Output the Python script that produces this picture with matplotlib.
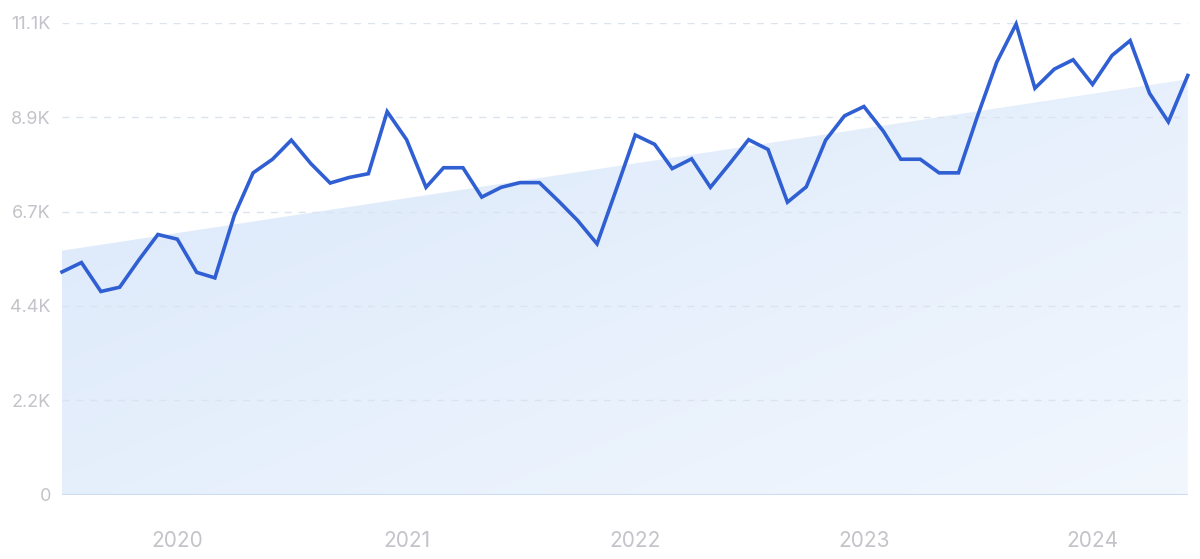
import numpy as np
import pandas as pd
import matplotlib
matplotlib.use("Agg")
import matplotlib.pyplot as plt
import matplotlib.dates as mdates
from matplotlib.colors import LinearSegmentedColormap
from matplotlib.patches import Polygon

# monthly values, Jul 2019 - Jun 2024
months = pd.date_range("2019-07-01", periods=60, freq="MS")
values = [5240, 5460, 4780, 4880, 5530, 6120, 6010, 5230, 5100, 6570,
          7570, 7890, 8340, 7790, 7330, 7460, 7550, 9010, 8350, 7230,
          7690, 7690, 7000, 7230, 7340, 7340, 6900, 6450, 5900, 7150,
          8460, 8240, 7670, 7900, 7230, 7790, 8350, 8120, 6880, 7240,
          8340, 8910, 9130, 8550, 7890, 7890, 7570, 7570, 8890, 10170,
          11070, 9560, 10010, 10230, 9650, 10330, 10680, 9440, 8770, 9860]

# trend band end points
trend_start = 5740
trend_end = 9770

y_ticks = [0, 2220, 4440, 6660, 8880, 11100]
y_labels = ["0", "2.2K", "4.4K", "6.7K", "8.9K", "11.1K"]
year_labels = ["2020", "2021", "2022", "2023", "2024"]

plt.rcParams["font.family"] = ["Inter", "DejaVu Sans"]

fig = plt.figure(figsize=(12, 5.59), dpi=100)
ax = fig.add_axes([0.0517, 0.115, 0.9381, 0.8443])

x = mdates.date2num(months)
x0, x1 = x[0], x[-1]

# trend area with a soft diagonal gradient
poly = Polygon([(x0, 0), (x0, trend_start), (x1, trend_end), (x1, 0)],
               closed=True, facecolor="none", edgecolor="none")
ax.add_patch(poly)
grad = np.add.outer(np.linspace(0, 1, 100), np.linspace(0, 1, 200)) / 2
cmap = LinearSegmentedColormap.from_list("band", ["#d9e7fa", "#f2f7fe"])
im = ax.imshow(grad, extent=[x0, x1, 0, 11100], aspect="auto", cmap=cmap,
               zorder=1, interpolation="bilinear")
im.set_clip_path(poly)

# baseline
ax.plot([x0, x1], [0, 0], color="#cddcf3", lw=1.5, zorder=2)

# grid
for t in y_ticks[1:]:
    ax.axhline(t, color="#dbe3ef", lw=1, ls=(0, (5, 5)), zorder=1.5)

ax.plot(x, values, color="#2f5fd2", lw=2.6, solid_joinstyle="miter",
        zorder=3, clip_on=False)

ax.set_xlim(x0, x1)
ax.set_ylim(0, 11100)

ax.set_yticks(y_ticks)
ax.set_yticklabels(y_labels)
year_pos = [mdates.date2num(pd.Timestamp(f"{y}-01-01")) for y in year_labels]
ax.set_xticks(year_pos)
ax.set_xticklabels(year_labels)

ax.tick_params(axis="y", length=0, pad=8, labelsize=13, labelcolor="#c3c3c9")
ax.tick_params(axis="x", length=0, pad=26, labelsize=15, labelcolor="#c3c3c9")
for s in ax.spines.values():
    s.set_visible(False)

fig.savefig("out.png", dpi=100)
